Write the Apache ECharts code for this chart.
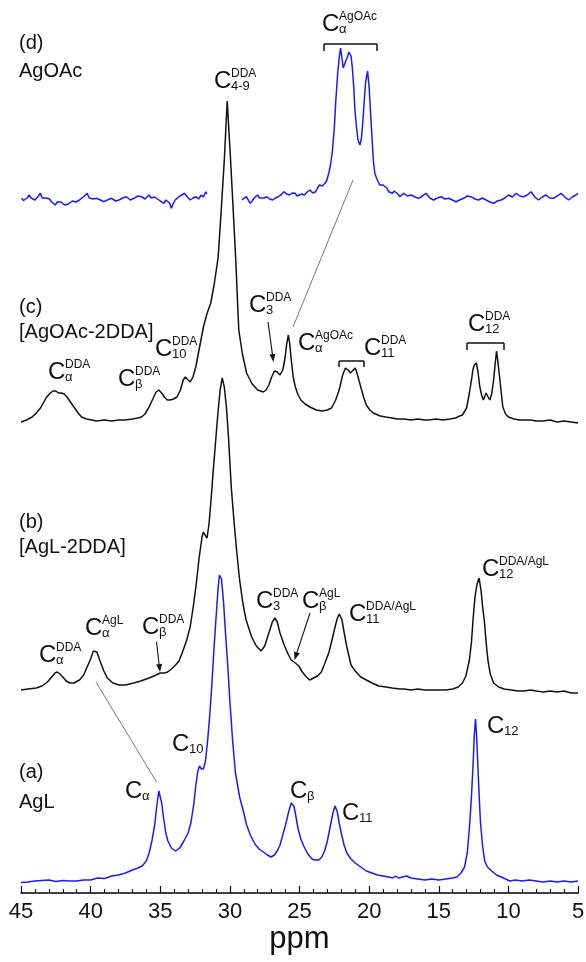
<!DOCTYPE html>
<html><head><meta charset="utf-8">
<script src="https://cdn.jsdelivr.net/npm/echarts@6/dist/echarts.min.js"></script>
<style>html,body{margin:0;padding:0;background:#fff}#c{width:586px;height:962px}</style>
</head><body><div id="c"></div><script>
// x axis (ppm, reversed)
const ppmMin = 5, ppmMax = 45, ppmStep = 5;
const axisName = 'ppm';
const panelLabels = [['(a)','AgL'],['(b)','[AgL-2DDA]'],['(c)','[AgOAc-2DDA]'],['(d)','AgOAc']];

// (a) AgL  [ppm, intensity a.u.]
const specA = [[45,-1.5],[44.5,-1],[44,0],[43.5,0.5],[43,1],[42.5,-0.5],[42,0.5],[41.5,0],[41,0],[40.5,1],[40,1],[39.5,3],[39,2.5],[38.5,5],[38,6],[37.5,8],[37,11],[36.6,13],[36.3,15],[36,20],[35.8,28],[35.6,40],[35.4,56],[35.25,75],[35.1,90],[35.0,88],[34.9,78],[34.75,62],[34.6,48],[34.45,40],[34.2,33],[33.9,30],[33.6,33],[33.3,40],[33.0,48],[32.8,58],[32.6,76],[32.45,95],[32.3,110],[32.18,115],[32.05,112],[31.9,112],[31.75,120],[31.6,140],[31.45,165],[31.3,195],[31.15,230],[31.0,262],[30.85,292],[30.75,306],[30.68,308],[30.6,302],[30.45,278],[30.3,245],[30.15,215],[30.0,180],[29.8,140],[29.6,108],[29.3,84],[29.0,68],[28.8,56],[28.5,45],[28.2,37],[27.9,32],[27.6,29],[27.3,26],[27.05,24],[26.8,26],[26.6,30],[26.4,36],[26.2,46],[26.0,56],[25.8,68],[25.6,78],[25.5,79],[25.4,75],[25.25,64],[25.1,52],[24.9,42],[24.7,35],[24.4,27],[24.1,22],[23.9,21],[23.6,21],[23.4,24],[23.2,30],[23.0,40],[22.8,54],[22.6,68],[22.45,75],[22.3,70],[22.15,58],[22.0,48],[21.8,36],[21.6,28],[21.3,22],[21.0,18],[20.6,14],[20.2,10],[19.8,8],[19.4,6],[19.0,5],[18.6,4],[18.3,3],[18.1,5],[17.9,3],[17.6,4],[17.3,5],[17.0,3],[16.5,2],[16.0,1],[15.5,2],[15.0,1],[14.5,2],[14.0,3],[13.7,4],[13.4,8],[13.15,14],[12.95,28],[12.77,58],[12.65,85],[12.55,112],[12.45,145],[12.36,162],[12.28,145],[12.17,108],[12.08,80],[12.0,58],[11.85,35],[11.7,20],[11.5,14],[11.2,10],[10.85,6],[10.5,4],[10.2,2],[9.9,0],[9.5,1],[9.0,0],[8.5,1],[8.0,0],[7.5,-1],[7.0,0],[6.5,-1],[6.0,0],[5.5,-1],[5,0]];

// (b) [AgL-2DDA]
const specB = [[45,2],[44.5,3],[43.9,4],[43.5,6],[43.1,10],[42.8,15],[42.55,19],[42.4,20],[42.2,18],[42.0,15],[41.75,11],[41.5,9],[41.2,9],[40.8,12],[40.5,17],[40.25,25],[40.0,33],[39.8,41],[39.7,43],[39.55,40],[39.3,30],[39.05,21],[38.8,14],[38.4,9],[37.96,7],[37.5,7],[36.9,9],[36.4,11],[35.8,14],[35.3,17],[35.0,19],[34.7,19],[34.47,20],[34.2,23],[33.9,27],[33.66,31],[33.4,40],[33.1,52],[32.85,65],[32.6,88],[32.4,110],[32.2,135],[32.0,155],[31.9,160],[31.78,157],[31.64,154],[31.5,168],[31.37,189],[31.2,220],[31.0,255],[30.85,280],[30.7,302],[30.55,314],[30.4,305],[30.25,285],[30.1,255],[29.9,205],[29.7,170],[29.5,139],[29.3,112],[29.1,92],[28.95,80],[28.83,72],[28.6,62],[28.43,55],[28.1,46],[27.76,41],[27.5,46],[27.2,59],[26.95,70],[26.77,74],[26.6,70],[26.4,59],[26.1,47],[25.86,39],[25.6,32],[25.3,29],[25.05,26],[24.8,20],[24.5,15],[24.27,12],[24.0,14],[23.7,16],[23.43,20],[23.2,28],[22.9,39],[22.7,50],[22.5,62],[22.3,73],[22.15,78],[21.95,72],[21.8,60],[21.6,45],[21.3,27],[21.0,21],[20.6,15],[20.2,12],[19.8,9],[19.3,6],[18.8,5],[18.35,4],[17.8,3],[17.5,3],[17,2],[16.5,3],[16,2],[15.5,2],[15,2],[14.5,2],[14.0,3],[13.6,5],[13.3,9],[13.05,16],[12.8,32],[12.65,50],[12.54,72],[12.4,95],[12.25,108],[12.1,114],[11.95,100],[11.85,85],[11.73,72],[11.6,50],[11.47,32],[11.3,18],[11.06,9],[10.7,5],[10.3,3],[9.8,2],[9.3,1],[8.9,1],[8.4,2],[8.0,1],[7.5,0],[7.0,1],[6.5,0],[6.0,1],[5.5,-1],[5,-1]];

// (c) [AgOAc-2DDA]
const specC = [[45,0],[44.6,2],[44.2,5],[43.9,9],[43.6,14],[43.2,24],[42.9,29],[42.7,31],[42.5,31],[42.3,29],[42.1,29],[41.9,28],[41.7,25],[41.45,20],[41.2,15],[40.9,9],[40.65,5],[40.3,3],[39.9,2],[39.6,1],[39.0,2],[38.5,1],[37.96,2],[37.5,2],[37.0,3],[36.6,4],[36.35,5],[36.1,8],[35.8,15],[35.5,24],[35.3,30],[35.1,32],[34.9,29],[34.7,25],[34.5,22],[34.3,22],[34.05,23],[33.8,25],[33.55,32],[33.35,42],[33.2,45],[33.0,42],[32.85,40],[32.65,45],[32.45,55],[32.2,73],[31.9,95],[31.65,108],[31.37,119],[31.1,140],[30.84,165],[30.62,212],[30.4,262],[30.19,321],[29.95,262],[29.76,212],[29.57,160],[29.45,120],[29.36,92],[29.1,68],[28.8,49],[28.4,38],[28.0,32],[27.6,30],[27.4,32],[27.2,37],[27.0,45],[26.8,51],[26.6,50],[26.4,47],[26.2,52],[26.05,63],[25.92,78],[25.8,87],[25.7,78],[25.6,63],[25.45,45],[25.3,35],[25.1,27],[24.9,22],[24.6,18],[24.25,15],[23.8,12],[23.4,11],[23.0,12],[22.7,14],[22.4,22],[22.2,30],[22.1,35],[21.9,47],[21.7,54],[21.5,52],[21.35,49],[21.2,51],[21.0,54],[20.85,48],[20.6,35],[20.4,25],[20.2,17],[19.95,12],[19.7,9],[19.2,6],[18.8,5],[18.35,4],[18.0,3],[17.5,3],[17.0,2],[16.5,3],[16.0,2],[15.7,2],[15.2,3],[14.7,2],[14.2,3],[13.8,4],[13.5,6],[13.3,7],[13.0,14],[12.8,29],[12.65,42],[12.55,52],[12.45,57],[12.3,59],[12.18,50],[12.05,35],[11.92,27],[11.8,22],[11.6,29],[11.45,25],[11.33,22],[11.2,28],[11.06,42],[10.95,58],[10.85,71],[10.75,60],[10.63,45],[10.5,28],[10.4,15],[10.2,8],[10.0,5],[9.6,3],[9.2,2],[8.9,2],[8.4,2],[8.0,1],[7.5,1],[7.0,2],[6.5,0],[6.0,1],[5.5,0],[5,-1]];

// (d) AgOAc, two segments (interrupted near 30 ppm)
const specDLeft = [[44.96,1.7],[44.82,-0.5],[44.69,-1.7],[44.55,2],[44.42,5],[44.28,2],[44.15,3.3],[44.0,0],[43.88,1.7],[43.75,4],[43.61,6.7],[43.48,2],[43.35,0],[43.2,2],[43.08,3.3],[42.95,1],[42.81,-1.7],[42.68,-3],[42.54,-5],[42.4,-2],[42.27,0],[42.13,-2],[42.0,-3.3],[41.86,-5],[41.73,-6.7],[41.6,-4],[41.46,-3.3],[41.32,-1],[41.19,0],[41.05,-2],[40.92,-1.7],[40.8,0],[40.66,1.7],[40.45,4],[40.25,6.7],[40.1,2],[39.98,0],[39.8,1],[39.58,1.7],[39.3,0],[39.04,-1.7],[38.8,0],[38.5,1.7],[38.2,-1],[37.96,0],[37.7,2],[37.43,3.3],[37.15,0],[36.89,1.7],[36.6,4],[36.35,3.3],[36.1,1],[35.81,5],[35.65,2],[35.54,0],[35.4,3],[35.27,1.7],[35.0,-1],[34.74,-3.3],[34.6,0],[34.47,1.7],[34.33,-3],[34.2,-8.3],[34.05,-3],[33.93,0],[33.8,2],[33.66,3.3],[33.45,5],[33.26,6.7],[33.05,3],[32.85,0],[32.65,2],[32.45,3.3],[32.25,1],[32.05,5],[31.9,3],[31.73,8.3],[31.67,6]];
const specDRight = [[29.14,0],[29.0,2],[28.82,3.3],[28.68,0],[28.55,-3.3],[28.4,-1],[28.28,1.7],[28.14,3],[28.01,5],[27.87,2],[27.74,0],[27.55,2],[27.34,3.3],[27.15,1],[26.93,0],[26.73,2],[26.53,3.3],[26.33,5],[26.13,8.3],[25.92,6],[25.72,5],[25.52,7],[25.32,6.7],[25.18,4],[25.05,3.3],[24.85,6],[24.65,5],[24.45,8],[24.25,10],[24.05,7],[23.84,8.3],[23.7,12],[23.57,15],[23.37,14],[23.17,16.7],[23.03,20],[22.9,26.7],[22.76,36],[22.63,50],[22.5,72],[22.39,100],[22.25,128],[22.15,142],[22.05,152],[21.95,142],[21.86,132],[21.81,130],[21.7,138],[21.56,143],[21.45,148],[21.38,150],[21.3,144],[21.21,133],[21.1,112],[21.02,90],[20.9,72],[20.8,60],[20.66,55],[20.55,62],[20.48,73],[20.37,95],[20.26,117],[20.11,129],[20.0,113],[19.9,88],[19.81,66.7],[19.7,40],[19.59,26.7],[19.47,22],[19.35,18.3],[19.24,15],[19.13,13.3],[19.0,15],[18.86,16.7],[18.73,12],[18.6,8.3],[18.46,7],[18.33,6.7],[18.2,9],[18.06,10],[17.93,6],[17.79,3.3],[17.65,5],[17.52,6.7],[17.25,4],[16.98,5],[16.7,3],[16.44,1.7],[16.17,4],[15.91,6.7],[15.64,2],[15.37,0],[15.1,2],[14.83,3.3],[14.56,1],[14.29,1.7],[14.02,0],[13.76,-1.7],[13.5,0],[13.22,1.7],[12.95,4],[12.68,3.3],[12.4,1],[12.14,0],[11.87,2],[11.6,0],[11.33,-2],[11.06,-3.3],[10.8,-1],[10.52,0],[10.25,2],[9.99,5],[9.72,3],[9.45,6.7],[9.18,4],[8.91,3.3],[8.64,5],[8.37,8.3],[8.1,3],[7.84,0],[7.57,3],[7.3,5],[7.03,2],[6.76,1.7],[6.49,4],[6.22,6.7],[5.95,3],[5.68,0],[5.4,3],[5.15,5],[5.0,6.7]];

const FONT = '"Liberation Sans", Arial, Helvetica, sans-serif';
const chart = echarts.init(document.getElementById('c'), null, {renderer:'canvas'});

const L = 21, R = 8;
// grid layouts: [top, height, yMin, yMax] — 1 unit = 1px
const gridsCfg = [
  [561, 332, -12, 320],   // a
  [362, 350, -20, 330],   // b
  [92, 350, -20, 330],    // c
  [30, 190, -20, 170]     // d
];
const grids = gridsCfg.map(g => ({left:L, right:R, top:g[0], height:g[1], containLabel:false, outerBoundsMode:'none'}));
const xAxes = gridsCfg.map((g,i) => {
  const base = {type:'value', gridIndex:i, min:ppmMin, max:ppmMax, interval:ppmStep, inverse:true};
  if (i !== 0) return Object.assign(base, {show:false});
  return Object.assign(base, {
    show:true,
    axisLine:{show:true, onZero:false, lineStyle:{color:'#000', width:1.5}},
    axisTick:{show:true, inside:true, length:7, lineStyle:{color:'#000', width:1.2}},
    minorTick:{show:true, splitNumber:5, length:4, lineStyle:{color:'#000', width:1}},
    splitLine:{show:false}, minorSplitLine:{show:false},
    axisLabel:{show:true, fontSize:22, color:'#111', margin:8, fontFamily:FONT, showMinLabel:true, showMaxLabel:true},
    name:axisName, nameLocation:'middle', nameGap:29,
    nameTextStyle:{fontSize:31, color:'#111', fontFamily:FONT}
  });
});
const yAxes = gridsCfg.map((g,i) => ({type:'value', gridIndex:i, min:g[2], max:g[3], show:false, splitLine:{show:false}}));

const BLUE = '#1a1aff', BLACK = '#111';
function line(data, i, color){
  return {type:'line', xAxisIndex:i, yAxisIndex:i, data:data, showSymbol:false, symbol:'none',
    lineStyle:{color:color, width:1.5}, silent:true, animation:false, clip:false, z:2};
}
const series = [line(specA,0,BLUE), line(specB,1,BLACK), line(specC,2,BLACK), line(specDLeft,3,BLUE), line(specDRight,3,BLUE)];

// ---- annotations ----
const g = [];
function txt(x, y, s, size){
  g.push({type:'text', x:x, y:y, z:10, silent:true,
    style:{text:s, fontSize:size, fontFamily:FONT, fill:'#111', align:'left', verticalAlign:'middle'}});
}
function peak(x, cy, sup, sub){
  txt(x-1, cy, 'C', 24);
  if (sup) txt(x+16, cy-7, sup, 12);
  if (sub) txt(x+16, cy+5, sub, 13);
}
function seg(x1,y1,x2,y2,w,c){
  g.push({type:'line', z:10, silent:true, shape:{x1:x1,y1:y1,x2:x2,y2:y2}, style:{stroke:c||'#111', lineWidth:w||1.2}});
}
function bracket(x1,x2,y,d){ seg(x1,y,x2,y,1.5); seg(x1,y,x1,y+d,1.5); seg(x2,y,x2,y+d,1.5); }
function arrow(x1,y1,x2,y2){
  const dx=x2-x1, dy=y2-y1, len=Math.hypot(dx,dy), ux=dx/len, uy=dy/len;
  const hl=8, hw=3;
  const bx=x2-ux*hl, by=y2-uy*hl;
  seg(x1,y1,bx,by,1.1);
  g.push({type:'polygon', z:10, silent:true, shape:{points:[[x2,y2],[bx-uy*hw,by+ux*hw],[bx+uy*hw,by-ux*hw]]}, style:{fill:'#111'}});
}

// panel labels
const panelPos = [[772,802],[522,547],[307,332],[43,71]];
panelLabels.forEach((p,i)=>{ txt(19, panelPos[i][0], p[0], 20); txt(19, panelPos[i][1], p[1], 20); });

// (d)
peak(323, 24, 'AgOAc', 'α');
bracket(324, 377, 44, 7);
peak(215, 81, 'DDA', '4-9');
// (c)
peak(49, 372, 'DDA', 'α');
peak(119, 379, 'DDA', 'β');
peak(156, 349, 'DDA', '10');
peak(250, 305, 'DDA', '3');
arrow(268, 322, 273.5, 362);
peak(299, 343, 'AgOAc', 'α');
peak(365, 348, 'DDA', '11');
bracket(339, 364, 361, 6);
peak(469, 324, 'DDA', '12');
bracket(467, 504, 343, 7);
// (b)
peak(40, 655, 'DDA', 'α');
peak(86, 628, 'AgL', 'α');
peak(143, 627, 'DDA', 'β');
arrow(156.5, 642, 160, 672);
peak(257, 601, 'DDA', '3');
peak(303, 601, 'AgL', 'β');
arrow(310, 613, 294.5, 660);
peak(350, 614, 'DDA/AgL', '11');
peak(483, 569, 'DDA/AgL', '12');
// (a)
peak(126, 791, null, 'α');
peak(173, 744, null, '10');
peak(291, 791, null, 'β');
peak(343, 813, null, '11');
peak(488, 726, null, '12');
// guide lines
seg(353, 180, 293, 327, 0.8, '#555');
seg(96, 682, 156.5, 782, 0.8, '#555');

chart.setOption({
  animation:false, backgroundColor:'#fff',
  grid:grids, xAxis:xAxes, yAxis:yAxes, series:series, graphic:g
});
</script></body></html>
